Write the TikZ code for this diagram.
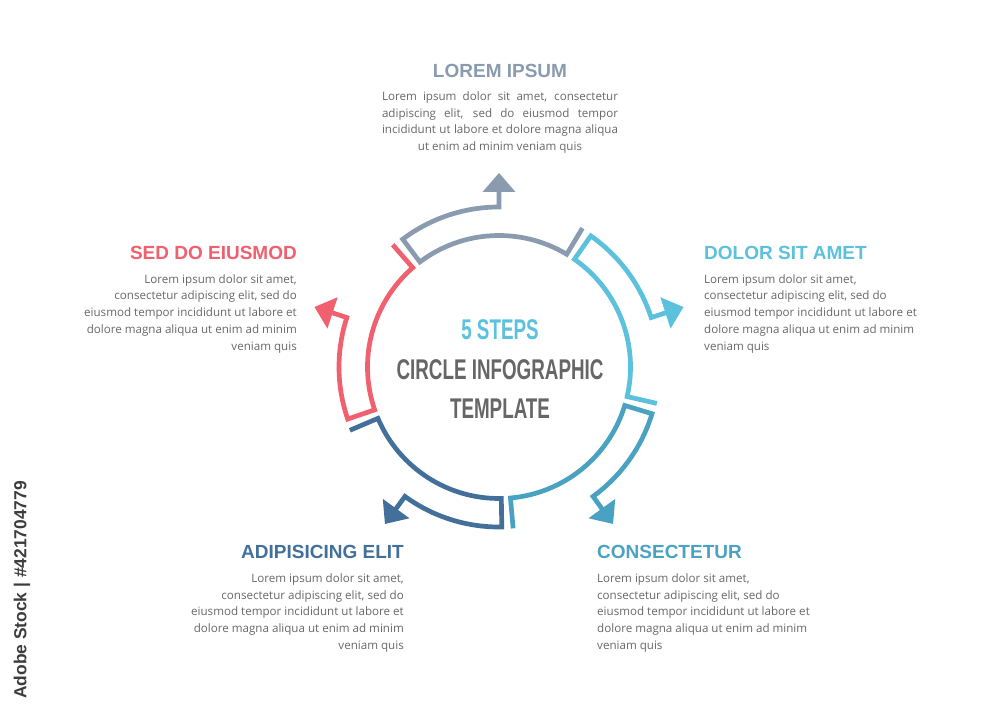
\documentclass[tikz,border=0pt]{standalone}
\usepackage{fontspec}
\usetikzlibrary{calc}
\setmainfont{Open Sans}
\newfontfamily\headfont{Liberation Sans}
\newfontfamily\titlefont[FakeStretch=0.66]{Liberation Sans}
\definecolor{cgrey}{HTML}{8A9BB0}
\definecolor{ccyan}{HTML}{5BC1DC}
\definecolor{cteal}{HTML}{4AA2C2}
\definecolor{cdblue}{HTML}{42709A}
\definecolor{cred}{HTML}{F1606F}
\definecolor{ctitle}{HTML}{666666}
\definecolor{cbody}{HTML}{686868}
\definecolor{cmark}{HTML}{3C3C3C}
\tikzset{
  seg/.style={line width=4.7pt, miter limit=10, line join=miter},
  body/.style={inner sep=0pt, text=cbody, font=\fontsize{11.6}{16.7}\selectfont},
  head/.style={inner sep=0pt, font=\headfont\bfseries\fontsize{19}{22}\selectfont},
  ttl/.style={inner sep=0pt, anchor=base, font=\titlefont\bfseries\fontsize{28.5}{32}\selectfont},
}
\begin{document}
\begin{tikzpicture}[x=1pt,y=1pt]
\useasboundingbox (0,0) rectangle (1000,714);
\fill[white] (0,0) rectangle (1000,714);
\coordinate (C) at (499,347);
% segments
\foreach \m/\col in {90/cgrey, 18/ccyan, -54/cteal, -126/cdblue, 162/cred}{
  \draw[seg, \col] ($(C)+(\m:176)$) -- ($(C)+(\m:160)$)
     arc[start angle=\m, end angle={\m+37}, radius=160]
     -- ($(C)+({\m+37}:131.5)$)
     arc[start angle={\m+37}, end angle={\m-31}, radius=131.5]
     -- ($(C)+({\m-31}:162)$);
  \fill[\col] ($(C)+(\m:194)$) -- ($(C)+(\m:175)+({\m+90}:16.5)$)
     -- ($(C)+(\m:175)+({\m-90}:16.5)$) -- cycle;
}
% title
\node[ttl, text=ccyan] (t1) at (500,374.5) {5 STEPS};
\node[ttl, text=ctitle] (t2) at (500,334.5) {CIRCLE INFOGRAPHIC};
\node[ttl, text=ctitle] (t3) at (500,295) {TEMPLATE};
% top block
\node[head, text=cgrey, anchor=base] (h1) at (500,636.7) {LOREM IPSUM};
\node[body, anchor=base] (a1) at (500,613.5) {\makebox[236pt][s]{Lorem ipsum dolor sit amet, consectetur}};
\node[body, anchor=base] (a2) at (500,596.8) {\makebox[236pt][s]{adipiscing elit, sed do eiusmod tempor}};
\node[body, anchor=base] (a3) at (500,580.1) {\makebox[236pt][s]{incididunt ut labore et dolore magna aliqua}};
\node[body, anchor=base] (a4) at (500,563.4) {ut enim ad minim veniam quis};
% upper left block
\node[head, text=cred, anchor=base east] (h2) at (297,454.7) {SED DO EIUSMOD};
\node[body, anchor=base east] (b1) at (297,430.7) {Lorem ipsum dolor sit amet,};
\node[body, anchor=base east] (b2) at (297,414) {consectetur adipiscing elit, sed do};
\node[body, anchor=base east] (b3) at (297,397.3) {eiusmod tempor incididunt ut labore et};
\node[body, anchor=base east] (b4) at (297,380.6) {dolore magna aliqua ut enim ad minim};
\node[body, anchor=base east] (b5) at (297,363.9) {veniam quis};
% upper right block
\node[head, text=ccyan, anchor=base west] (h3) at (704,454.7) {DOLOR SIT AMET};
\node[body, anchor=base west] (c1) at (704,430.7) {Lorem ipsum dolor sit amet,};
\node[body, anchor=base west] (c2) at (704,414) {consectetur adipiscing elit, sed do};
\node[body, anchor=base west] (c3) at (704,397.3) {eiusmod tempor incididunt ut labore et};
\node[body, anchor=base west] (c4) at (704,380.6) {dolore magna aliqua ut enim ad minim};
\node[body, anchor=base west] (c5) at (704,363.9) {veniam quis};
% lower left block
\node[head, text=cdblue, anchor=base east] (h4) at (404,155) {ADIPISICING ELIT};
\node[body, anchor=base east] (d1) at (404,131.5) {Lorem ipsum dolor sit amet,};
\node[body, anchor=base east] (d2) at (404,114.8) {consectetur adipiscing elit, sed do};
\node[body, anchor=base east] (d3) at (404,98.1) {eiusmod tempor incididunt ut labore et};
\node[body, anchor=base east] (d4) at (404,81.4) {dolore magna aliqua ut enim ad minim};
\node[body, anchor=base east] (d5) at (404,64.7) {veniam quis};
% lower right block
\node[head, text=cteal, anchor=base west] (h5) at (597,155) {CONSECTETUR};
\node[body, anchor=base west] (e1) at (597,131.5) {Lorem ipsum dolor sit amet,};
\node[body, anchor=base west] (e2) at (597,114.8) {consectetur adipiscing elit, sed do};
\node[body, anchor=base west] (e3) at (597,98.1) {eiusmod tempor incididunt ut labore et};
\node[body, anchor=base west] (e4) at (597,81.4) {dolore magna aliqua ut enim ad minim};
\node[body, anchor=base west] (e5) at (597,64.7) {veniam quis};
% stock label
\node[inner sep=0pt, rotate=90, text=cmark, font=\headfont\bfseries\fontsize{17.4}{19}\selectfont] (wm) at (22,124) {Adobe Stock | \#421704779};
\end{tikzpicture}
\end{document}
